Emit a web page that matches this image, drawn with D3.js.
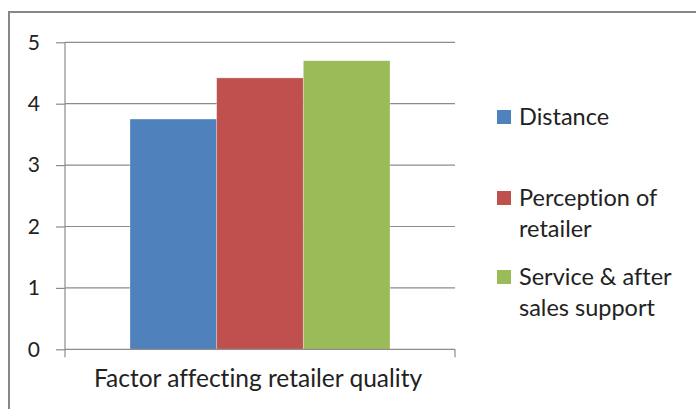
<!DOCTYPE html>
<html>
<head>
<meta charset="utf-8">
<script src="https://cdn.jsdelivr.net/npm/d3@7"></script>
<style>
  html, body { margin: 0; padding: 0; background: #fff; }
  svg { display: block; }
  text { font-family: Lato, "Open Sans", sans-serif; fill: #222; font-variant-ligatures: none; }
</style>
</head>
<body>
<svg id="chart" width="696" height="409"></svg>
<script>
// Chart data
const categories = ["Factor affecting retailer quality"];
const seriesNames = ["Distance", "Perception of retailer", "Service & after sales support"];
const seriesValues = [3.75, 4.42, 4.70];
const legendLines = [["Distance"], ["Perception of", "retailer"], ["Service & after", "sales support"]];
const yTicks = [0, 1, 2, 3, 4, 5];
const colors = ["#4F81BD", "#C0504D", "#9BBB59"];

const svg = d3.select("#chart");
const plot = { left: 65, right: 455, top: 42.3, bottom: 349.3 };

// Outer frame (extends past the right and bottom edges)
svg.append("rect")
  .attr("x", 9).attr("y", 12)
  .attr("width", 720).attr("height", 420)
  .attr("fill", "none")
  .attr("stroke", "#878787")
  .attr("stroke-width", 2);

const y = d3.scaleLinear().domain([0, 5]).range([plot.bottom, plot.top]);
const x0 = d3.scaleBand().domain(categories).range([plot.left, plot.right]);
const x1 = d3.scaleBand().domain(seriesNames)
  .range([0, x0.bandwidth()])
  .paddingInner(0).paddingOuter(0.75);

// Horizontal gridlines
svg.append("g")
  .selectAll("line")
  .data(yTicks.filter(d => d > 0))
  .join("line")
  .attr("x1", plot.left).attr("x2", plot.right)
  .attr("y1", d => y(d)).attr("y2", d => y(d))
  .attr("stroke", "#8c8c8c").attr("stroke-width", 1.2);

// Bars
svg.append("g")
  .selectAll("rect")
  .data(seriesValues.map((v, i) => ({ name: seriesNames[i], value: v, color: colors[i] })))
  .join("rect")
  .attr("x", d => x0(categories[0]) + x1(d.name))
  .attr("y", d => y(d.value))
  .attr("width", x1.bandwidth())
  .attr("height", d => y(0) - y(d.value))
  .attr("fill", d => d.color)
  .attr("stroke", "#ffffff")
  .attr("stroke-opacity", 0.35)
  .attr("stroke-width", 0.8);

// Value axis
const yAxis = svg.append("g")
  .attr("transform", `translate(${plot.left},0)`)
  .call(d3.axisLeft(y).tickValues(yTicks).tickSize(9).tickPadding(16).tickFormat(d3.format("d")));
yAxis.select(".domain").remove();
yAxis.selectAll(".tick line").attr("stroke", "#8c8c8c").attr("stroke-width", 1.2);
yAxis.selectAll(".tick text")
  .style("font-family", "Lato, sans-serif")
  .style("font-size", "21px")
  .attr("fill", "#222");

// Vertical axis line, continuing down to the category tick
svg.append("line")
  .attr("x1", plot.left).attr("x2", plot.left)
  .attr("y1", plot.top).attr("y2", plot.bottom + 8)
  .attr("stroke", "#8c8c8c").attr("stroke-width", 1.2);

// Category axis
const xAxis = svg.append("g")
  .attr("transform", `translate(0,${plot.bottom})`);
xAxis.append("line")
  .attr("x1", plot.left).attr("x2", plot.right)
  .attr("stroke", "#8c8c8c").attr("stroke-width", 1.2);
xAxis.append("line")
  .attr("x1", plot.right).attr("x2", plot.right)
  .attr("y1", 0).attr("y2", 8)
  .attr("stroke", "#8c8c8c").attr("stroke-width", 1.2);
xAxis.selectAll("text.cat")
  .data(categories)
  .join("text")
  .attr("class", "cat")
  .attr("x", d => x0(d) + x0.bandwidth() / 2 - 2)
  .attr("y", 38)
  .attr("text-anchor", "middle")
  .style("font-size", "24.5px")
  .text(d => d);

// Legend
const legendY = [117, 198, 277];
const legend = svg.append("g");
legendLines.forEach((lines, i) => {
  const g = legend.append("g").attr("transform", `translate(497,${legendY[i]})`);
  g.append("rect")
    .attr("x", 0).attr("y", -7)
    .attr("width", 14).attr("height", 14)
    .attr("fill", colors[i]);
  g.selectAll("text")
    .data(lines)
    .join("text")
    .attr("x", 22)
    .attr("y", (d, j) => 8 + j * 31)
    .style("font-size", "23.5px")
    .text(d => d);
});
</script>
</body>
</html>
